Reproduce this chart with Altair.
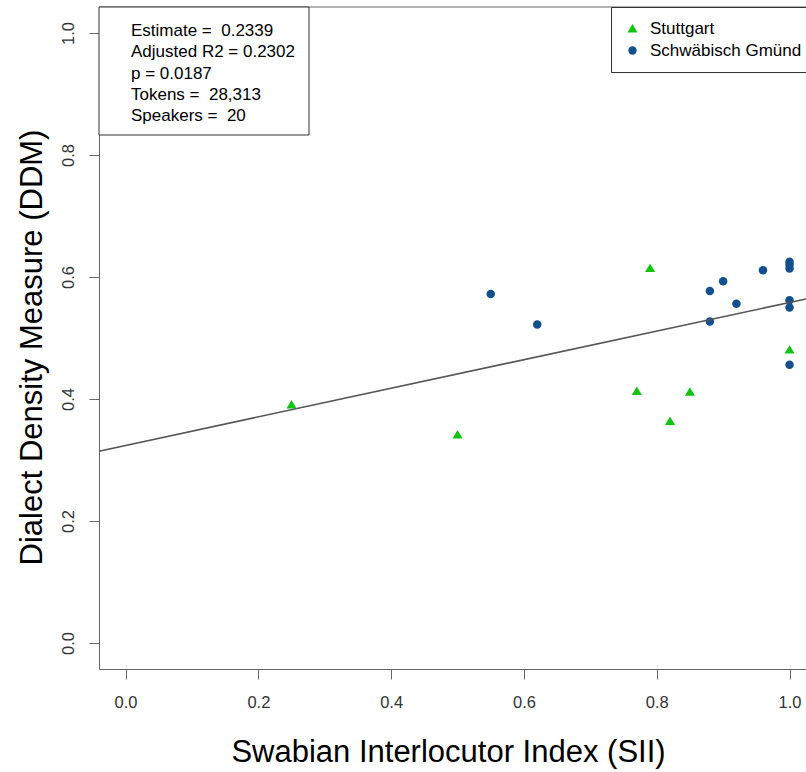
import altair as alt
import pandas as pd

# ---- data ----
stuttgart_sii = [0.25, 0.50, 0.77, 0.79, 0.82, 0.85, 1.00]
stuttgart_ddm = [0.391, 0.342, 0.413, 0.615, 0.364, 0.412, 0.481]

gmund_sii = [0.55, 0.62, 0.88, 0.88, 0.90, 0.92, 0.96, 1.00, 1.00, 1.00, 1.00, 1.00, 1.00]
gmund_ddm = [0.572, 0.522, 0.577, 0.527, 0.593, 0.556, 0.611, 0.625, 0.620, 0.614, 0.562, 0.550, 0.456]

cities = ["Stuttgart", "Schwäbisch Gmünd"]

# fitted regression line (endpoints across the plot region)
line_sii = [-0.04, 1.0248]
line_ddm = [0.3145, 0.5640]

stats_lines = [
    "Estimate = \u00a00.2339",
    "Adjusted R2 = 0.2302",
    "p = 0.0187",
    "Tokens = \u00a028,313",
    "Speakers = \u00a020",
]

x_ticks = [0.0, 0.2, 0.4, 0.6, 0.8, 1.0]
y_ticks = [0.0, 0.2, 0.4, 0.6, 0.8, 1.0]

# ---- styling ----
FONT = "Liberation Sans"
GREEN = "#12c412"
BLUE = "#134f8d"
AXIS_GRAY = "#666666"
TRIANGLE = "M0,-1.05L1.2,0.95L-1.2,0.95Z"

points = pd.DataFrame({
    "SII": stuttgart_sii + gmund_sii,
    "DDM": stuttgart_ddm + gmund_ddm,
    "City": [cities[0]] * len(stuttgart_sii) + [cities[1]] * len(gmund_sii),
})
line_df = pd.DataFrame({"SII": line_sii, "DDM": line_ddm})
one_row = pd.DataFrame({"txt": ["\n".join(stats_lines)]})

x_enc = alt.X(
    "SII:Q",
    scale=alt.Scale(domain=[-0.04, 1.0248], nice=False, zero=False),
    axis=alt.Axis(
        values=x_ticks, format=".1f", title="Swabian Interlocutor Index (SII)",
        labelPadding=15, titleX=349, titleY=92, titleAlign="center",
        titleBaseline="alphabetic",
    ),
)
y_enc = alt.Y(
    "DDM:Q",
    scale=alt.Scale(domain=[-0.0426, 1.0426], nice=False, zero=False),
    axis=alt.Axis(
        values=y_ticks, format=".1f", title="Dialect Density Measure (DDM)",
        labelAngle=270, labelAlign="center", labelBaseline="bottom",
        labelPadding=13, titleAngle=270, titleX=-58, titleY=340,
        titleAlign="center", titleBaseline="alphabetic",
    ),
)

legend = alt.Legend(
    orient="none", legendX=512, legendY=0, title=None,
    strokeColor="#333333", fillColor="white", padding=13, rowPadding=4,
    labelFont=FONT, labelFontSize=17, labelColor="black", labelOffset=9,
    symbolSize=70, symbolStrokeWidth=0, symbolOpacity=1,
)

pts = alt.Chart(points).mark_point(filled=True, opacity=1, size=72).encode(
    x=x_enc,
    y=y_enc,
    color=alt.Color("City:N", scale=alt.Scale(domain=cities, range=[GREEN, BLUE]), legend=legend),
    shape=alt.Shape("City:N", scale=alt.Scale(domain=cities, range=[TRIANGLE, "circle"]), legend=legend),
)

reg = alt.Chart(line_df).mark_line(color="#555555", strokeWidth=1.6).encode(
    x="SII:Q", y="DDM:Q"
)

top_border = alt.Chart(one_row).mark_rule(color=AXIS_GRAY, strokeWidth=1).encode(
    x=alt.value(0), x2=alt.value(707), y=alt.value(0)
)

box = alt.Chart(one_row).mark_rect(fill="white", stroke="#333333", strokeWidth=1).encode(
    x=alt.value(0), x2=alt.value(210), y=alt.value(0), y2=alt.value(128)
)

box_text = alt.Chart(one_row).mark_text(
    align="left", baseline="alphabetic", font=FONT, fontSize=17,
    lineHeight=21.3, lineBreak="\n", color="black",
).encode(x=alt.value(32), y=alt.value(29), text="txt:N")

chart = alt.layer(pts, reg, top_border, box, box_text).properties(
    width=707,
    height=662,
    autosize=alt.AutoSizeParams(type="none"),
    padding={"left": 99, "top": 7, "right": 0, "bottom": 103},
    background="white",
).configure_view(
    stroke=None
).configure_axis(
    grid=False,
    domainColor=AXIS_GRAY,
    tickColor=AXIS_GRAY,
    tickSize=10,
    labelFont=FONT,
    labelFontSize=16.5,
    labelColor="#333333",
    titleFont=FONT,
    titleFontSize=31,
    titleFontWeight="normal",
    titleColor="black",
)

chart.save("out.html", embed_options={"renderer": "svg", "actions": False})
